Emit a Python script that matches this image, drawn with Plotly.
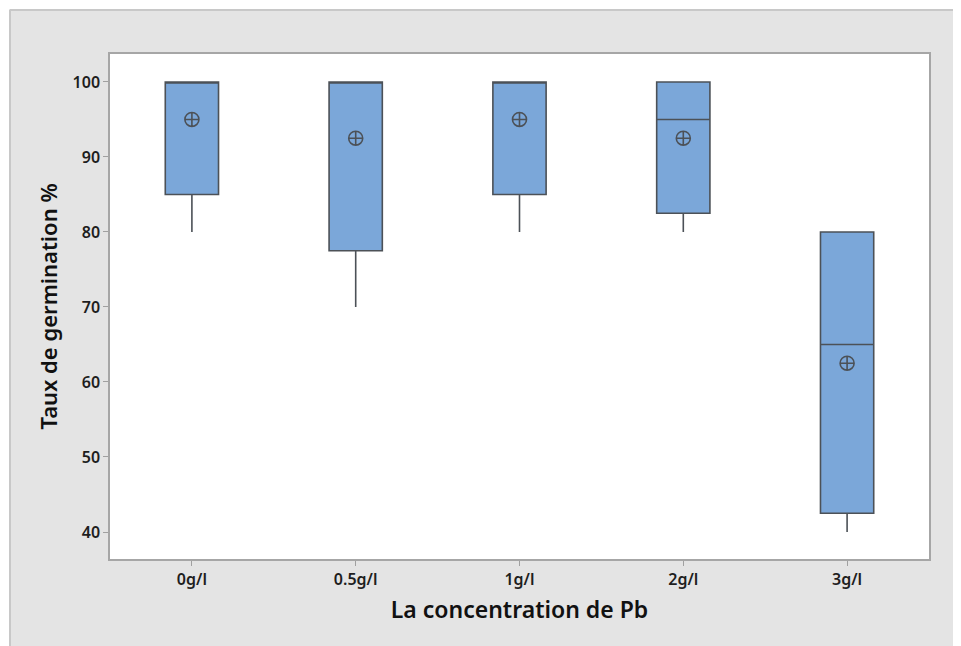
import plotly.graph_objects as go

categories = ["0g/l", "0.5g/l", "1g/l", "2g/l", "3g/l"]
q1 = [85, 77.5, 85, 82.5, 42.5]
median = [100, 100, 100, 95, 65]
q3 = [100, 100, 100, 100, 80]
lower = [80, 70, 80, 80, 40]
upper = [100, 100, 100, 100, 80]
means = [95, 92.5, 95, 92.5, 62.5]
y_ticks = [40, 50, 60, 70, 80, 90, 100]

# page body has an 8px margin, so figure coords = screen coords - 8
W, H = 953, 638
ML, MR, MT, MB = 102, 32, 46, 87
PW, PH = W - ML - MR, H - MT - MB

def px(x):
    return (x - ML) / PW

def py(y):
    return (H - MB - y) / PH

fig = go.Figure()
fig.add_trace(go.Box(
    x=categories, q1=q1, median=median, q3=q3,
    lowerfence=lower, upperfence=upper,
    fillcolor="#7ba7d9",
    line=dict(color="#4c5157", width=1.6),
    whiskerwidth=0, width=0.325,
    boxpoints=False, showlegend=False, hoverinfo="skip",
))
fig.add_trace(go.Scatter(
    x=categories, y=means, mode="markers",
    marker=dict(symbol="circle-cross-open", size=14,
                color="#4c5157", line=dict(width=1.6, color="#4c5157")),
    showlegend=False, hoverinfo="skip",
))

tickfont = dict(family="Noto Sans", size=16, color="#1e1e1e", weight=600)
fig.update_layout(
    width=W, height=H,
    margin=dict(l=ML, r=MR, t=MT, b=MB),
    paper_bgcolor="#e4e4e4",
    plot_bgcolor="white",
    xaxis=dict(
        range=[-0.5, 4.5], tickmode="array", tickvals=categories,
        ticks="outside", ticklen=5, tickcolor="#a0a0a0", tickwidth=1,
        showline=True, linecolor="#a6a6a6", linewidth=1.5, mirror=True,
        showgrid=False, zeroline=False, tickfont=tickfont,
        title=dict(text="La concentration de Pb", standoff=13,
                   font=dict(family="Noto Sans", size=23, color="#111", weight=600)),
    ),
    yaxis=dict(
        range=[36.4, 103.73], tickvals=y_ticks,
        ticks="outside", ticklen=5, tickcolor="#a0a0a0", tickwidth=1,
        showline=True, linecolor="#a6a6a6", linewidth=1.5, mirror=True,
        showgrid=False, zeroline=False, tickfont=tickfont,
        title=dict(text="Taux de germination %", standoff=9,
                   font=dict(family="Noto Sans", size=22, color="#111", weight=600)),
    ),
    shapes=[
        dict(type="rect", xref="paper", yref="paper", x0=px(-5), x1=px(W + 5),
             y0=py(1), y1=py(-5), fillcolor="white", line=dict(width=0), layer="above"),
        dict(type="rect", xref="paper", yref="paper", x0=px(-5), x1=px(1),
             y0=py(H + 5), y1=py(-5), fillcolor="white", line=dict(width=0), layer="above"),
        dict(type="line", xref="paper", yref="paper", x0=px(2), x1=px(W + 5),
             y0=py(2), y1=py(2), line=dict(color="#c8c8c8", width=2), layer="above"),
        dict(type="line", xref="paper", yref="paper", x0=px(2), x1=px(2),
             y0=py(2), y1=py(H + 5), line=dict(color="#c8c8c8", width=2), layer="above"),
    ],
)

fig.write_html("out.html")
